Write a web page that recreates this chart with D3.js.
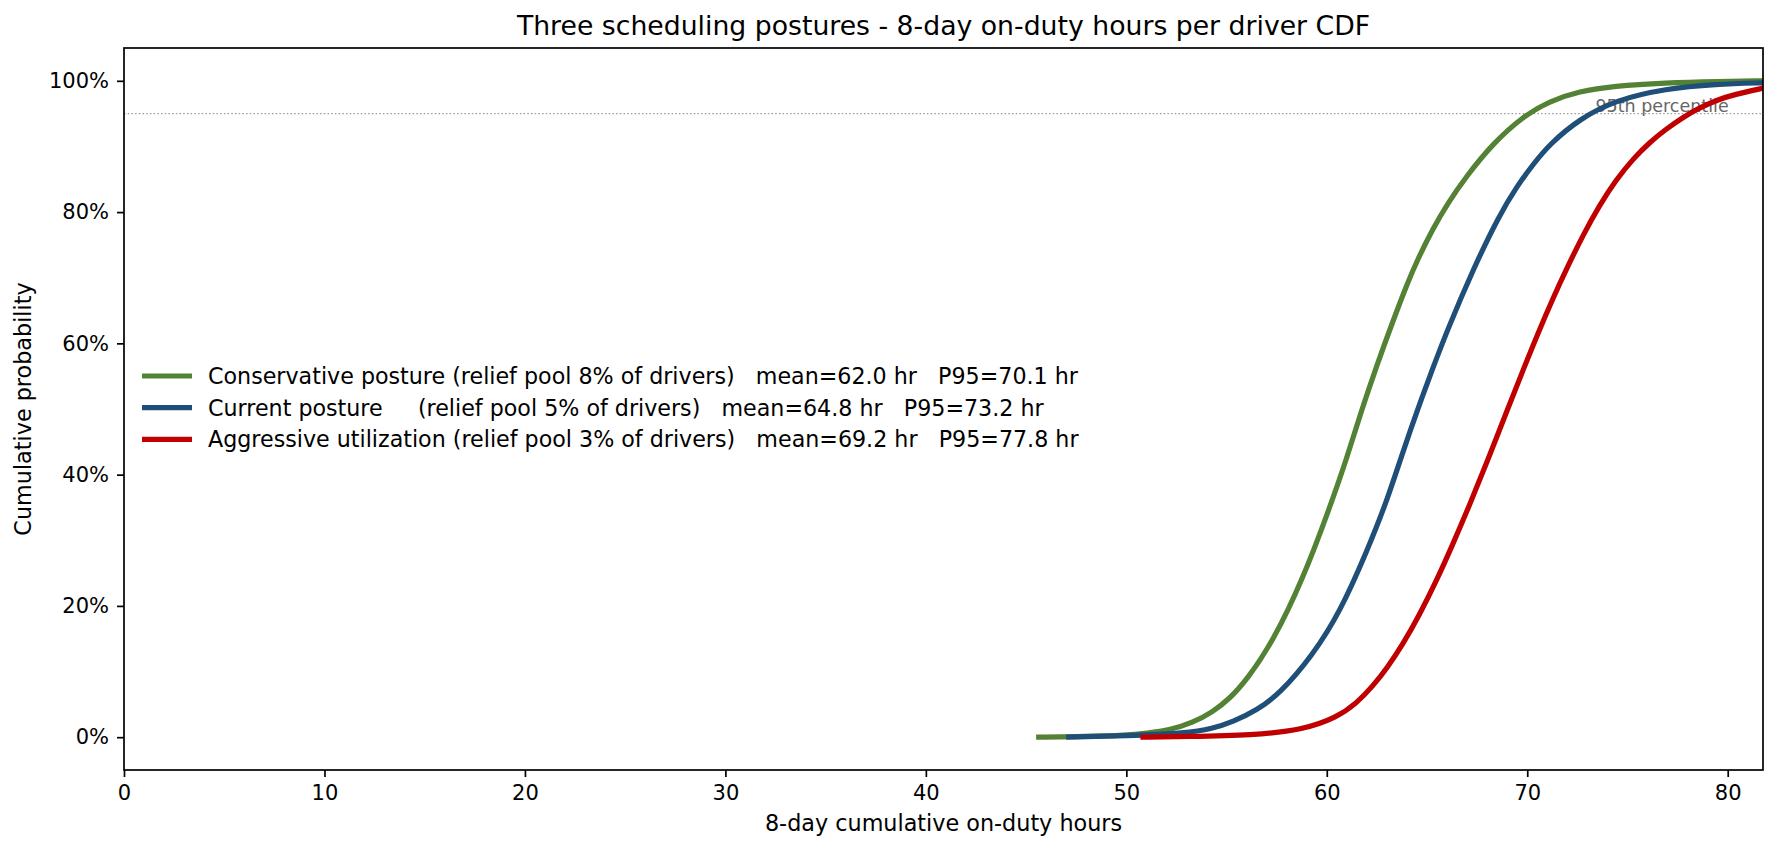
<!DOCTYPE html>
<html>
<head>
<meta charset="utf-8">
<script src="https://cdn.jsdelivr.net/npm/d3@7"></script>
<style>
  html, body { margin: 0; padding: 0; background: #fff; }
  svg { display: block; font-family: "DejaVu Sans", sans-serif; }
  .tick text { font-size: 21px; fill: #000; }
  .tick line { stroke: #000; stroke-width: 1.7; }
  .legend-label { font-size: 22.2px; white-space: pre; }
</style>
</head>
<body>
<svg id="chart"></svg>
<script>
const width = 1778, height = 850;
const margin = { top: 48, right: 15, bottom: 80, left: 124 };

// CDF points (hours, cumulative share)
const conservativeX = [45.5, 48.0, 50.0, 51.0, 52.2, 53.3, 54.3, 55.2, 56.0, 57.3, 58.8, 60.15, 61.0, 61.7, 62.5, 63.3, 64.0, 64.5, 65.3, 66.0, 66.97, 68.3, 69.8, 71.1, 72.6, 74.3, 76.9, 79.5, 81.8];
const conservativeY = [0, 0.001, 0.003, 0.006, 0.011, 0.022, 0.038, 0.06, 0.087, 0.145, 0.24, 0.35, 0.425, 0.495, 0.567, 0.634, 0.69, 0.726, 0.775, 0.812, 0.855, 0.905, 0.946, 0.969, 0.984, 0.992, 0.997, 0.999, 1.0];

const currentX = [47.0, 50.0, 53.0, 54.3, 55.3, 56.5, 57.65, 59.3, 60.65, 62.0, 63.0, 63.8, 64.5, 65.3, 65.97, 67.3, 68.6, 69.5, 70.3, 71.1, 72.6, 74.45, 76.9, 79.4, 81.8];
const currentY = [0, 0.002, 0.006, 0.013, 0.023, 0.041, 0.066, 0.125, 0.19, 0.283, 0.36, 0.435, 0.497, 0.563, 0.617, 0.713, 0.795, 0.84, 0.873, 0.903, 0.942, 0.971, 0.988, 0.995, 0.997];

const aggressiveX = [50.7, 53.0, 56.3, 58.8, 60.5, 61.5, 62.3, 63.0, 63.8, 64.6, 65.5, 66.3, 67.1, 68.0, 69.0, 69.8, 70.5, 71.3, 71.95, 72.8, 73.6, 74.4, 75.3, 76.1, 76.9, 77.8, 78.6, 79.5, 80.3, 81.8];
const aggressiveY = [0, 0.001, 0.003, 0.011, 0.03, 0.052, 0.078, 0.105, 0.142, 0.185, 0.24, 0.295, 0.352, 0.42, 0.498, 0.56, 0.613, 0.67, 0.713, 0.766, 0.81, 0.848, 0.882, 0.906, 0.926, 0.945, 0.959, 0.971, 0.979, 0.989];

const seriesNames = [
  'Conservative posture (relief pool 8% of drivers)   mean=62.0 hr   P95=70.1 hr',
  'Current posture     (relief pool 5% of drivers)   mean=64.8 hr   P95=73.2 hr',
  'Aggressive utilization (relief pool 3% of drivers)   mean=69.2 hr   P95=77.8 hr'
];
const seriesColors = ['#548235', '#1F4E79', '#C00000'];

const xTicks = [0, 10, 20, 30, 40, 50, 60, 70, 80];
const yTicks = [0, 0.2, 0.4, 0.6, 0.8, 1.0];
const xDomain = [0, 81.76];
const yDomain = [-0.05, 1.05];
const p95Level = 0.95;

const series = [
  { name: seriesNames[0], color: seriesColors[0], pts: d3.zip(conservativeX, conservativeY) },
  { name: seriesNames[1], color: seriesColors[1], pts: d3.zip(currentX, currentY) },
  { name: seriesNames[2], color: seriesColors[2], pts: d3.zip(aggressiveX, aggressiveY) }
];

const svg = d3.select('#chart').attr('width', width).attr('height', height);

const x = d3.scaleLinear().domain(xDomain).range([margin.left, width - margin.right]);
const y = d3.scaleLinear().domain(yDomain).range([height - margin.bottom, margin.top]);

svg.append('clipPath').attr('id', 'plot-clip')
  .append('rect')
  .attr('x', margin.left).attr('y', margin.top)
  .attr('width', width - margin.left - margin.right)
  .attr('height', height - margin.top - margin.bottom);

// 95th percentile reference
svg.append('line')
  .attr('x1', x.range()[0]).attr('x2', x.range()[1])
  .attr('y1', y(p95Level)).attr('y2', y(p95Level))
  .attr('stroke', '#999').attr('stroke-width', 1.4)
  .attr('stroke-dasharray', '1.5,2.2');

svg.append('text')
  .attr('x', x(80) + 1).attr('y', y(p95Level) - 2)
  .attr('text-anchor', 'end')
  .attr('font-size', 17.5).attr('fill', '#666')
  .text('95th percentile');

// Curves (basis spline just smooths the hand-read points)
const line = d3.line().x(d => x(d[0])).y(d => y(d[1])).curve(d3.curveBasis);
const curves = svg.append('g').attr('clip-path', 'url(#plot-clip)');
series.forEach(s => {
  curves.append('path')
    .attr('d', line(s.pts))
    .attr('fill', 'none')
    .attr('stroke', s.color)
    .attr('stroke-width', 5.2)
    .attr('stroke-linejoin', 'round');
});

// Axes
const xAxis = d3.axisBottom(x).tickValues(xTicks).tickSize(7).tickPadding(8).tickFormat(d3.format('d'));
const yAxis = d3.axisLeft(y).tickValues(yTicks).tickSize(7).tickPadding(8).tickFormat(d3.format('.0%'));

svg.append('g').attr('transform', `translate(0,${height - margin.bottom})`).call(xAxis)
  .call(g => g.select('.domain').remove());
svg.append('g').attr('transform', `translate(${margin.left},0)`).call(yAxis)
  .call(g => g.select('.domain').remove());

svg.selectAll('.tick text').attr('font-family', '"DejaVu Sans", sans-serif');

// frame
svg.append('rect')
  .attr('x', margin.left).attr('y', margin.top)
  .attr('width', width - margin.left - margin.right)
  .attr('height', height - margin.top - margin.bottom)
  .attr('fill', 'none').attr('stroke', '#000').attr('stroke-width', 1.7);

// Titles
svg.append('text')
  .attr('x', (x.range()[0] + x.range()[1]) / 2).attr('y', 35)
  .attr('text-anchor', 'middle').attr('font-size', 26.7)
  .text('Three scheduling postures - 8-day on-duty hours per driver CDF');

svg.append('text')
  .attr('x', (x.range()[0] + x.range()[1]) / 2).attr('y', 831)
  .attr('text-anchor', 'middle').attr('font-size', 22.3)
  .text('8-day cumulative on-duty hours');

svg.append('text')
  .attr('transform', `translate(31,${(y.range()[0] + y.range()[1]) / 2}) rotate(-90)`)
  .attr('text-anchor', 'middle').attr('font-size', 22.3)
  .text('Cumulative probability');

// Legend (no frame)
const legend = svg.append('g').attr('transform', 'translate(142,376)');
series.forEach((s, i) => {
  const row = legend.append('g').attr('transform', `translate(0,${i * 31.7})`);
  row.append('line').attr('x1', 0).attr('x2', 50).attr('y1', 0).attr('y2', 0)
    .attr('stroke', s.color).attr('stroke-width', 5.2);
  row.append('text').attr('class', 'legend-label')
    .attr('x', 66).attr('y', 8)
    .text(s.name);
});
</script>
</body>
</html>
